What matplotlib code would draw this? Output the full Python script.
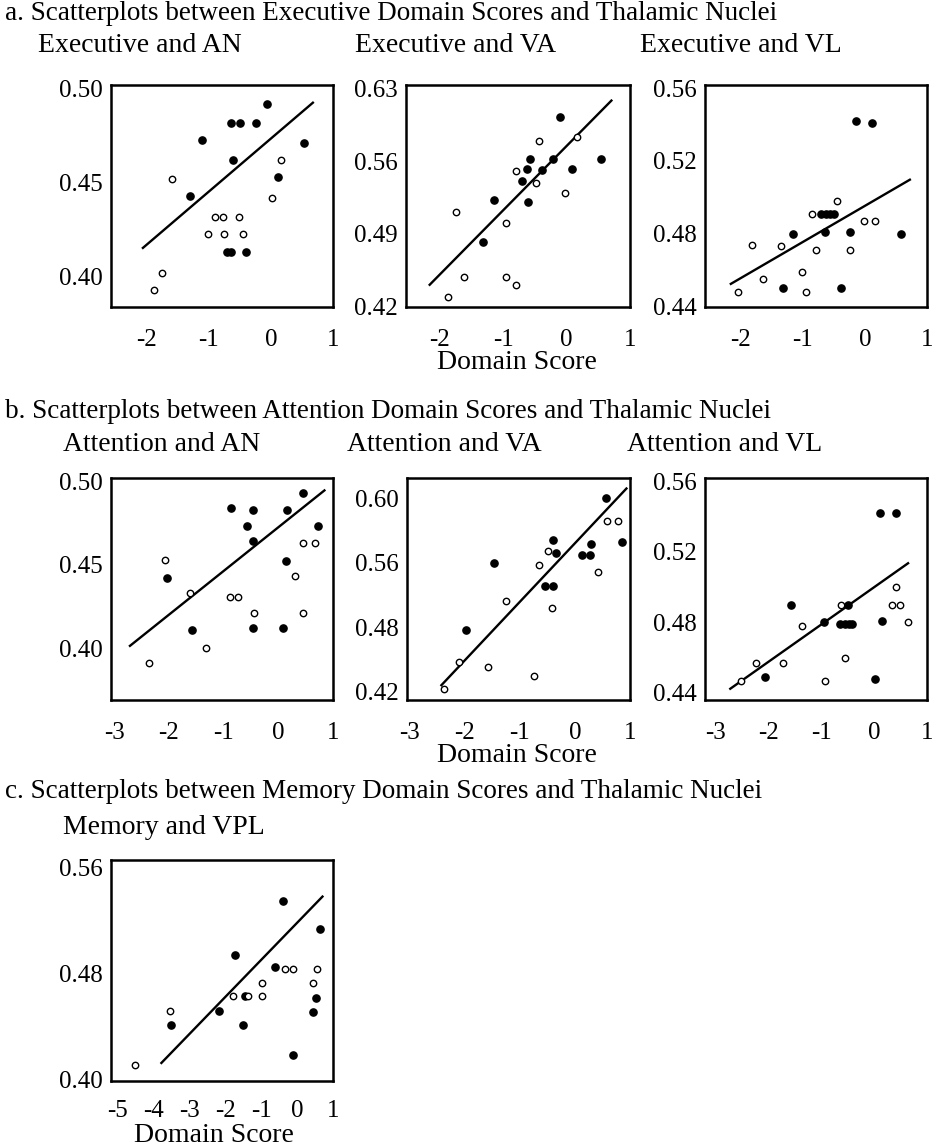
import matplotlib.pyplot as plt

plt.rcParams['font.family'] = ['Liberation Serif', 'DejaVu Serif']
plt.rcParams['axes.unicode_minus'] = False

W, H = 936, 1147

# ---- a. Executive domain ----
ex_an_fx = [-1.30, -1.12, -0.71, -0.64, -0.64, -0.62, -0.50, -0.40, -0.24, -0.07, 0.12, 0.53]
ex_an_fy = [0.443, 0.473, 0.413, 0.413, 0.482, 0.462, 0.482, 0.413, 0.482, 0.492, 0.453, 0.471]
ex_an_ox = [-1.88, -1.75, -1.60, -1.02, -0.90, -0.78, -0.76, -0.52, -0.45, 0.01, 0.16]
ex_an_oy = [0.393, 0.402, 0.452, 0.423, 0.432, 0.432, 0.423, 0.432, 0.423, 0.442, 0.462]
ex_an_lx = [-2.08, 0.69]
ex_an_ly = [0.415, 0.493]

ex_va_fx = [-1.32, -1.15, -0.70, -0.63, -0.61, -0.57, -0.39, -0.22, -0.10, 0.09, 0.54]
ex_va_fy = [0.482, 0.522, 0.541, 0.552, 0.521, 0.562, 0.551, 0.562, 0.602, 0.552, 0.562]
ex_va_ox = [-1.87, -1.74, -1.62, -0.96, -0.96, -0.79, -0.79, -0.44, -0.48, -0.03, 0.17]
ex_va_oy = [0.429, 0.511, 0.448, 0.500, 0.448, 0.441, 0.550, 0.579, 0.539, 0.529, 0.583]
ex_va_lx = [-2.17, 0.72]
ex_va_ly = [0.440, 0.619]

ex_vl_fx = [-1.33, -1.16, -0.71, -0.63, -0.56, -0.50, -0.65, -0.38, -0.24, -0.14, 0.12, 0.58]
ex_vl_fy = [0.450, 0.480, 0.491, 0.491, 0.491, 0.491, 0.481, 0.450, 0.481, 0.542, 0.541, 0.480]
ex_vl_ox = [-2.04, -1.82, -1.65, -1.35, -1.01, -0.95, -0.85, -0.79, -0.45, -0.24, -0.02, 0.16]
ex_vl_oy = [0.448, 0.474, 0.455, 0.473, 0.459, 0.448, 0.491, 0.471, 0.498, 0.471, 0.487, 0.487]
ex_vl_lx = [-2.18, 0.74]
ex_vl_ly = [0.452, 0.510]

# ---- b. Attention domain ----
at_an_fx = [-2.03, -1.57, -0.86, -0.57, -0.46, -0.46, -0.47, 0.16, 0.14, 0.09, 0.46, 0.73]
at_an_fy = [0.442, 0.411, 0.484, 0.473, 0.483, 0.464, 0.412, 0.483, 0.452, 0.412, 0.493, 0.473]
at_an_ox = [-2.37, -2.07, -1.61, -1.32, -0.88, -0.73, -0.45, 0.31, 0.45, 0.67, 0.45]
at_an_oy = [0.391, 0.453, 0.433, 0.400, 0.431, 0.431, 0.421, 0.443, 0.463, 0.463, 0.421]
at_an_lx = [-2.73, 0.86]
at_an_ly = [0.401, 0.495]

at_va_fx = [-1.97, -1.47, -0.55, -0.40, -0.39, -0.34, 0.12, 0.27, 0.29, 0.56, 0.86]
at_va_fy = [0.477, 0.540, 0.518, 0.518, 0.561, 0.549, 0.547, 0.547, 0.557, 0.600, 0.559]
at_va_ox = [-2.38, -2.11, -1.57, -1.26, -0.74, -0.66, -0.49, -0.41, 0.42, 0.58, 0.79]
at_va_oy = [0.422, 0.447, 0.443, 0.504, 0.434, 0.538, 0.551, 0.498, 0.531, 0.579, 0.579]
at_va_lx = [-2.44, 0.95]
at_va_ly = [0.425, 0.610]

at_vl_fx = [-2.07, -1.58, -0.95, -0.49, -0.65, -0.56, -0.48, -0.41, 0.01, 0.11, 0.15, 0.41]
at_vl_fy = [0.449, 0.490, 0.480, 0.490, 0.479, 0.479, 0.479, 0.479, 0.448, 0.542, 0.481, 0.542]
at_vl_ox = [-2.51, -2.24, -1.72, -1.37, -0.93, -0.63, -0.55, 0.41, 0.33, 0.49, 0.64]
at_vl_oy = [0.447, 0.457, 0.457, 0.478, 0.447, 0.490, 0.460, 0.500, 0.490, 0.490, 0.480]
at_vl_lx = [-2.74, 0.66]
at_vl_ly = [0.442, 0.514]

# ---- c. Memory domain ----
me_vpl_fx = [-3.52, -2.17, -1.72, -1.50, -1.46, -0.61, -0.40, -0.11, 0.45, 0.54, 0.65]
me_vpl_fy = [0.441, 0.452, 0.494, 0.441, 0.463, 0.485, 0.535, 0.419, 0.451, 0.462, 0.514]
me_vpl_ox = [-4.51, -3.55, -1.77, -1.37, -0.97, -0.97, -0.34, -0.11, 0.44, 0.56]
me_vpl_oy = [0.411, 0.452, 0.463, 0.463, 0.473, 0.463, 0.484, 0.484, 0.473, 0.484]
me_vpl_lx = [-3.80, 0.73]
me_vpl_ly = [0.412, 0.539]

xt_a = [-2, -1, 0, 1]
xt_b = [-3, -2, -1, 0, 1]
xt_c = [-5, -4, -3, -2, -1, 0, 1]

fig = plt.figure(figsize=(W / 100, H / 100), dpi=100)

# (data, box in px [left, top, right, bottom], xlim, ylim, yticks, ytick labels, xticks, x pad)
panels = [
    ((ex_an_fx, ex_an_fy, ex_an_ox, ex_an_oy, ex_an_lx, ex_an_ly), (111, 85, 333, 307),
     (-2.58, 1.0), (0.384, 0.502), [0.40, 0.45, 0.50], ['0.40', '0.45', '0.50'], xt_a, 16),
    ((ex_va_fx, ex_va_fy, ex_va_ox, ex_va_oy, ex_va_lx, ex_va_ly), (406, 85, 630, 307),
     (-2.53, 1.0), (0.4194, 0.6332), [0.42, 0.49, 0.56, 0.63], ['0.42', '0.49', '0.56', '0.63'], xt_a, 16),
    ((ex_vl_fx, ex_vl_fy, ex_vl_ox, ex_vl_oy, ex_vl_lx, ex_vl_ly), (705, 85, 927, 307),
     (-2.58, 1.0), (0.4396, 0.5618), [0.44, 0.48, 0.52, 0.56], ['0.44', '0.48', '0.52', '0.56'], xt_a, 16),
    ((at_an_fx, at_an_fy, at_an_ox, at_an_oy, at_an_lx, at_an_ly), (111, 478, 333, 700),
     (-3.06, 1.0), (0.369, 0.502), [0.40, 0.45, 0.50], ['0.40', '0.45', '0.50'], xt_b, 16),
    ((at_va_fx, at_va_fy, at_va_ox, at_va_oy, at_va_lx, at_va_ly), (407, 478, 630, 700),
     (-3.05, 1.0), (0.412, 0.619), [0.42, 0.48, 0.54, 0.60], ['0.42', '0.48', '0.56', '0.60'], xt_b, 16),
    ((at_vl_fx, at_vl_fy, at_vl_ox, at_vl_oy, at_vl_lx, at_vl_ly), (705, 478, 927, 700),
     (-3.2, 1.0), (0.436, 0.562), [0.44, 0.48, 0.52, 0.56], ['0.44', '0.48', '0.52', '0.56'], xt_b, 16),
    ((me_vpl_fx, me_vpl_fy, me_vpl_ox, me_vpl_oy, me_vpl_lx, me_vpl_ly), (111, 860, 333, 1081),
     (-5.18, 1.0), (0.399, 0.566), [0.40, 0.48, 0.56], ['0.40', '0.48', '0.56'], xt_c, 14),
]

for (fx, fy, ox, oy, lx, ly), (l, t, r, b), xl, yl, yt, ytl, xt, xpad in panels:
    ax = fig.add_axes([l / W, 1 - b / H, (r - l) / W, (b - t) / H])
    ax.plot(lx, ly, color='black', linewidth=1.7, solid_capstyle='butt')
    ax.plot(fx, fy, 'o', color='black', markersize=5.2, linestyle='none')
    ax.plot(ox, oy, 'o', markerfacecolor='white', markeredgecolor='black',
            markeredgewidth=1.0, markersize=4.6, linestyle='none')
    ax.set_xlim(*xl)
    ax.set_ylim(*yl)
    ax.set_xticks(xt)
    ax.set_yticks(yt)
    ax.set_yticklabels(ytl)
    ax.tick_params(length=0, labelsize=18)
    ax.tick_params(axis='x', pad=xpad)
    ax.tick_params(axis='y', pad=6)
    for s in ax.spines.values():
        s.set_linewidth(1.8)

def label(x, y, s, ha='left', size=20):
    fig.text(x / W, 1 - y / H, s, ha=ha, va='center', fontsize=size)

label(5, 14, 'a. Scatterplots between Executive Domain Scores and Thalamic Nuclei', size=19.5)
label(38, 45, 'Executive and AN')
label(355, 45, 'Executive and VA')
label(640, 45, 'Executive and VL')
label(517, 362, 'Domain Score', ha='center')

label(5, 411, 'b. Scatterplots between Attention Domain Scores and Thalamic Nuclei', size=19.5)
label(63, 445, 'Attention and AN')
label(347, 445, 'Attention and VA')
label(627, 445, 'Attention and VL')
label(517, 755, 'Domain Score', ha='center')

label(5, 792, 'c. Scatterplots between Memory Domain Scores and Thalamic Nuclei', size=19.5)
label(63, 827, 'Memory and VPL')
label(214, 1136, 'Domain Score', ha='center')

fig.savefig('out.png', dpi=100)
